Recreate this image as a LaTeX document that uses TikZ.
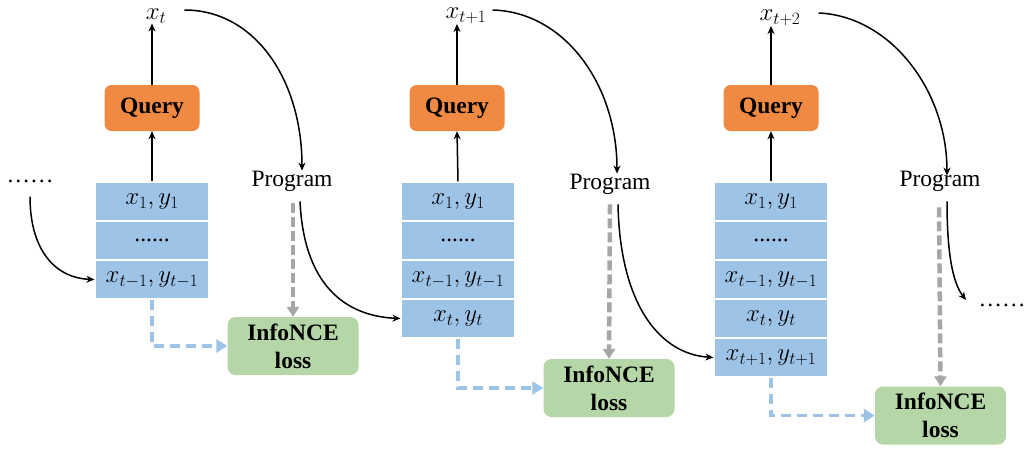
\documentclass[tikz,border=0pt]{standalone}
\usepackage{fontspec}
\setmainfont{Liberation Serif}
\usetikzlibrary{arrows.meta}
\definecolor{qorange}{HTML}{F08A43}
\definecolor{sblue}{HTML}{9DC3E6}
\definecolor{lgreen}{HTML}{B5D7A8}
\definecolor{dgray}{HTML}{A6A6A6}
\tikzset{
  txt/.style={font=\fontsize{23.5}{27}\selectfont, inner sep=0pt},
  mtxt/.style={font=\fontsize{26}{29}\selectfont, inner sep=0pt},
  query/.style={fill=qorange, rounded corners=7pt, minimum width=95pt, minimum height=46pt,
    inner sep=0pt, font=\fontsize{23.5}{27}\selectfont\bfseries},
  cell/.style={fill=sblue, draw=white, line width=1.2pt, minimum width=114pt, minimum height=39pt,
    inner sep=0pt, font=\fontsize{26.5}{29}\selectfont},
  loss/.style={fill=lgreen, rounded corners=8pt, minimum width=131pt, minimum height=58pt,
    inner sep=0pt, align=center, font=\fontsize{23.5}{28}\selectfont\bfseries},
  arr/.style={-{Stealth[length=8pt,width=7pt]}, line width=1.5pt},
  gdash/.style={draw=dgray, line width=4.5pt, dash pattern=on 10pt off 4pt,
    -{Triangle[length=10pt,width=12pt]}},
  bdash/.style={draw=sblue, line width=3.5pt, dash pattern=on 10pt off 6pt,
    -{Triangle[length=11pt,width=13pt]}},
}
\begin{document}
\begin{tikzpicture}[x=1pt,y=-1pt]
\useasboundingbox (0,0) rectangle (1025,448);

% ---------- panel 1 ----------
\node[mtxt] (xa) at (156,16) {$x_t$};
\node[query] (qa) at (152,108) {Query};
\node[cell] (a1) at (152,201.5) {$x_1,y_1$};
\node[cell] (a2) at (152,240.5) {\fontsize{23.5}{27}\selectfont ......};
\node[cell] (a3) at (152,279.5) {$x_{t-1},y_{t-1}$};
\node[txt] (pa) at (292,181) {Program};
\node[loss] (la) at (293,346) {InfoNCE\\loss};
\node[txt] (dl) at (30,181) {\ldots\ldots};

\draw[arr] (a1.north) -- (qa.south);
\draw[arr] (qa.north) -- (qa.north |- xa.south);
\draw[arr] ([xshift=18pt,yshift=6pt]xa.east) .. controls (255,10) and (302,80) .. ([xshift=10pt]pa.north);
\draw[arr] ([yshift=-14pt]dl.south) .. controls (30,250) and (55,278) .. (a3.west);
\draw[gdash] ([xshift=1pt,yshift=-12pt]pa.south) -- (la.north);
\draw[bdash] (a3.south) |- (la.west);

% ---------- panel 2 ----------
\node[mtxt] (xb) at (466,16) {$x_{t+1}$};
\node[query] (qb) at (457,108) {Query};
\node[cell] (b1) at (458,201.5) {$x_1,y_1$};
\node[cell] (b2) at (458,240.5) {\fontsize{23.5}{27}\selectfont ......};
\node[cell] (b3) at (458,279.5) {$x_{t-1},y_{t-1}$};
\node[cell] (b4) at (458,318.5) {$x_t,y_t$};
\node[txt] (pb) at (610,184) {Program};
\node[loss] (lb) at (609,388) {InfoNCE\\loss};

\draw[arr] (b1.north) -- (qb.south);
\draw[arr] (qb.north) -- (qb.north |- xb.south);
\draw[arr] ([xshift=6pt,yshift=6pt]xb.east) .. controls (565,12) and (617,85) .. ([xshift=7pt]pb.north);
\draw[arr] ([xshift=8pt,yshift=-10pt]pa.south) .. controls (304,285) and (345,316) .. (b4.west);
\draw[gdash] ([yshift=-10pt]pb.south) -- (lb.north);
\draw[bdash] (b4.south) |- (lb.west);

% ---------- panel 3 ----------
\node[mtxt] (xc) at (780,18) {$x_{t+2}$};
\node[query] (qc) at (771,108) {Query};
\node[cell] (c1) at (771,201.5) {$x_1,y_1$};
\node[cell] (c2) at (771,240.5) {\fontsize{23.5}{27}\selectfont ......};
\node[cell] (c3) at (771,279.5) {$x_{t-1},y_{t-1}$};
\node[cell] (c4) at (771,318.5) {$x_t,y_t$};
\node[cell] (c5) at (771,357.5) {$x_{t+1},y_{t+1}$};
\node[txt] (pc) at (940,181) {Program};
\node[loss] (lc) at (940.5,415.5) {InfoNCE\\loss};
\node[txt] (dr) at (1002,305) {\ldots\ldots};
\coordinate (ec) at (966,300);

\draw[arr] (c1.north) -- (qc.south);
\draw[arr] (qc.north) -- (qc.north |- xc.south);
\draw[arr] ([xshift=18pt,yshift=5pt]xc.east) .. controls (890,16) and (947,90) .. ([xshift=7pt,yshift=-5pt]pc.north);
\draw[arr] ([xshift=8pt,yshift=-10pt]pb.south) .. controls (620,305) and (660,354) .. (c5.west);
\draw[arr] ([xshift=7pt,yshift=-10pt]pc.south) .. controls (947,250) and (952,282) .. (ec);
\draw[gdash] ([xshift=-1pt,yshift=-16pt]pc.south) -- (lc.north);
\draw[bdash] (c5.south) |- (lc.west);
\end{tikzpicture}
\end{document}
